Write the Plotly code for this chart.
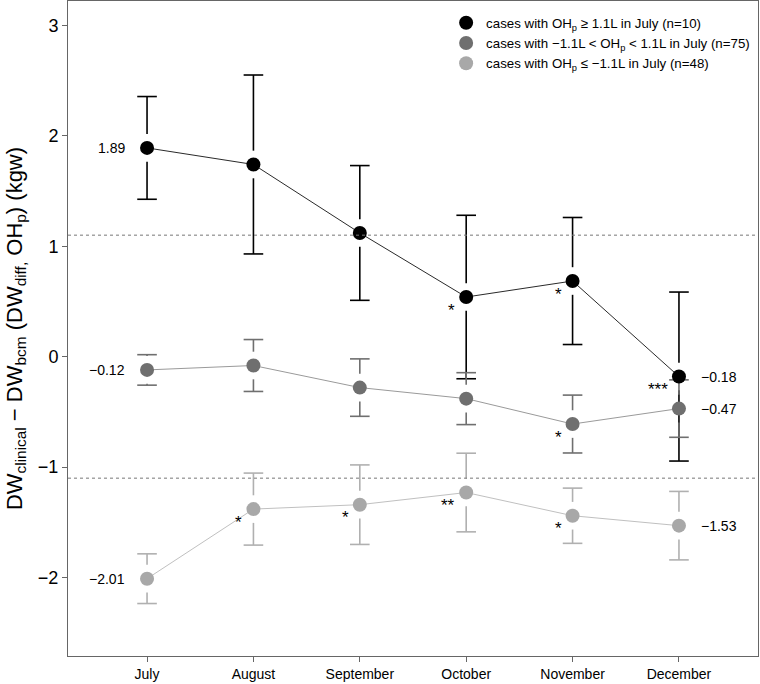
import plotly.graph_objects as go

# data
months = ["July", "August", "September", "October", "November", "December"]
y_ticks = [-2, -1, 0, 1, 2, 3]
thresholds = [1.1, -1.1]

high_mean = [1.89, 1.74, 1.12, 0.54, 0.685, -0.18]
high_err = [0.465, 0.81, 0.61, 0.74, 0.575, 0.765]
high_stars = ["", "", "", "*", "*", "***"]

mid_mean = [-0.12, -0.08, -0.28, -0.38, -0.61, -0.47]
mid_err = [0.138, 0.235, 0.26, 0.235, 0.262, 0.26]
mid_stars = ["", "", "", "", "*", ""]

low_mean = [-2.01, -1.38, -1.34, -1.23, -1.44, -1.53]
low_err = [0.225, 0.326, 0.36, 0.356, 0.25, 0.31]
low_stars = ["", "*", "*", "**", "*", ""]

names = [
    "cases with OH<sub>p</sub> ≥ 1.1L in July (n=10)",
    "cases with −1.1L < OH<sub>p</sub> < 1.1L in July (n=75)",
    "cases with OH<sub>p</sub> ≤ −1.1L in July (n=48)",
]

groups = [
    (names[0], high_mean, high_err, high_stars, "#000000", "#000000", "#2a2a2a"),
    (names[1], mid_mean, mid_err, mid_stars, "#6f6f6f", "#6f6f6f", "#9a9a9a"),
    (names[2], low_mean, low_err, low_stars, "#a8a8a8", "#b0b0b0", "#c0c0c0"),
]

FONT = "Arial, Liberation Sans, sans-serif"
GAP = 0.125  # gap between point and error bar, in data units
xs = list(range(1, len(months) + 1))


def fmt(v):
    return f"{v:.2f}".replace("-", "−")


fig = go.Figure()

for name, mean, err, stars, mcol, ecol, lcol in groups:
    # error bar stems, leaving a gap around the point
    ex, ey = [], []
    for x, m, e in zip(xs, mean, err):
        if e > GAP:
            ex += [x, x, None, x, x, None]
            ey += [m + GAP, m + e, None, m - GAP, m - e, None]
    fig.add_trace(go.Scatter(x=ex, y=ey, mode="lines", showlegend=False,
                             hoverinfo="skip", line=dict(color=ecol, width=1.6)))
    # caps
    fig.add_trace(go.Scatter(
        x=xs + xs, y=[m + e for m, e in zip(mean, err)] + [m - e for m, e in zip(mean, err)],
        mode="markers", showlegend=False, hoverinfo="skip",
        marker=dict(symbol="line-ew", size=14, line=dict(color=ecol, width=1.6))))

for name, mean, err, stars, mcol, ecol, lcol in groups:
    fig.add_trace(go.Scatter(x=xs, y=mean, mode="lines", showlegend=False,
                             hoverinfo="skip", line=dict(color=lcol, width=1)))
    fig.add_trace(go.Scatter(
        x=xs, y=mean, mode="markers", name=name,
        marker=dict(color=mcol, size=14, line=dict(width=0)),
    ))
    # value labels at first and last month
    fig.add_annotation(x=xs[0], y=mean[0], text=fmt(mean[0]), showarrow=False,
                       xanchor="right", xshift=-20, font=dict(size=14, color="black", family=FONT))
    fig.add_annotation(x=xs[-1], y=mean[-1], text=fmt(mean[-1]), showarrow=False,
                       xanchor="left", xshift=20, font=dict(size=14, color="black", family=FONT))
    # significance marks
    for x, m, s in zip(xs, mean, stars):
        if s:
            fig.add_annotation(x=x, y=m, text=s, showarrow=False, xanchor="right",
                               xshift=-9, yshift=-13,
                               font=dict(size=17, color="black", family=FONT))

for t in thresholds:
    fig.add_shape(type="line", xref="paper", x0=0, x1=1, y0=t, y1=t,
                  line=dict(color="#777777", width=1, dash="dot"))

fig.update_layout(
    width=760, height=684,
    margin=dict(l=68, r=2, t=1, b=28),
    plot_bgcolor="white", paper_bgcolor="white",
    font=dict(family=FONT, color="black"),
    showlegend=True,
    legend=dict(x=0.548, y=0.99, xanchor="left", yanchor="top",
                bgcolor="rgba(0,0,0,0)", font=dict(size=13.3), tracegroupgap=0,
                itemsizing="trace"),
    xaxis=dict(range=[0.257, 6.743], tickvals=xs, ticktext=months,
               showgrid=False, zeroline=False, showline=True, mirror=True,
               linecolor="#666666", linewidth=1, ticks="outside", ticklen=5,
               tickcolor="#666666", tickfont=dict(size=14)),
    yaxis=dict(range=[-2.71, 3.22], tickvals=y_ticks,
               ticktext=[str(v).replace("-", "−") for v in y_ticks],
               showgrid=False, zeroline=False, showline=True, mirror=True,
               linecolor="#666666", linewidth=1, ticks="outside", ticklen=5,
               tickcolor="#666666", tickfont=dict(size=18),
               title=dict(text="DW<sub>clinical</sub> − DW<sub>bcm</sub> (DW<sub>diff,</sub> OH<sub>p</sub>) (kgw)",
                          font=dict(size=22), standoff=9)),
)

fig.write_html("out.html", post_script="document.body.style.margin='0';",
               config={"displayModeBar": False})
